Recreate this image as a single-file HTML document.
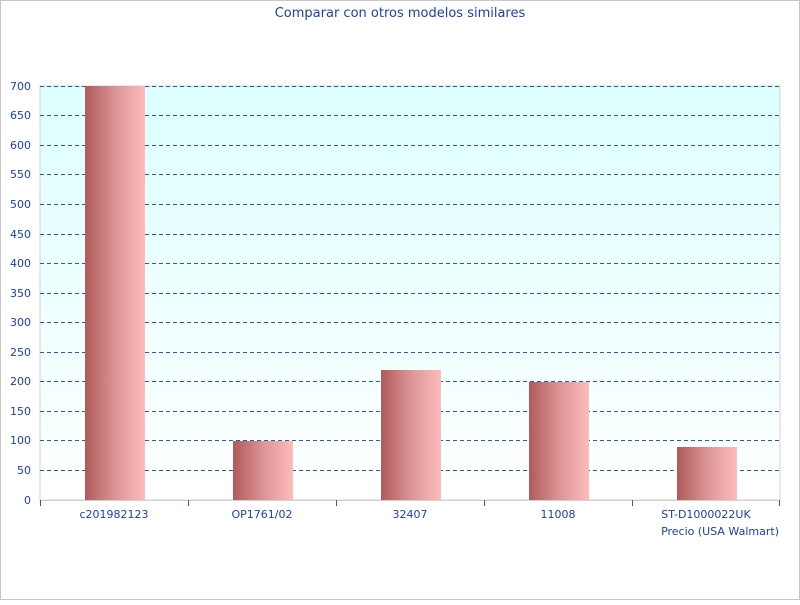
<!DOCTYPE html>
<html><head><style>body{margin:0;background:#fff}</style></head><body>
<svg width="800" height="600" xmlns="http://www.w3.org/2000/svg" font-family="'DejaVu Sans', 'Liberation Sans', sans-serif">
<defs>
<linearGradient id="bg" x1="0" y1="0" x2="0" y2="1"><stop offset="0" stop-color="#ddffff"/><stop offset="1" stop-color="#ffffff"/></linearGradient>
<linearGradient id="bar" x1="0" y1="0" x2="1" y2="0"><stop offset="0" stop-color="#b05a5a"/><stop offset="0.5" stop-color="#dc9494"/><stop offset="1" stop-color="#ffbcbc"/></linearGradient>
</defs>
<rect x="0.5" y="0.5" width="799" height="599" fill="#fff" stroke="#c8c8c8"/>
<text x="400" y="17" text-anchor="middle" font-size="13" fill="#1a3fb4">Comparar con otros modelos similares</text>
<rect x="40" y="86" width="740" height="414" fill="url(#bg)" stroke="#d0d0d0"/>
<g stroke="#2a55c8" stroke-dasharray="4,3" stroke-width="1">
<line x1="40" x2="780" y1="86.5" y2="86.5"/><line x1="40" x2="780" y1="115.5" y2="115.5"/><line x1="40" x2="780" y1="145.5" y2="145.5"/><line x1="40" x2="780" y1="174.5" y2="174.5"/><line x1="40" x2="780" y1="204.5" y2="204.5"/><line x1="40" x2="780" y1="234.5" y2="234.5"/><line x1="40" x2="780" y1="263.5" y2="263.5"/><line x1="40" x2="780" y1="293.5" y2="293.5"/><line x1="40" x2="780" y1="322.5" y2="322.5"/><line x1="40" x2="780" y1="352.5" y2="352.5"/><line x1="40" x2="780" y1="381.5" y2="381.5"/><line x1="40" x2="780" y1="411.5" y2="411.5"/><line x1="40" x2="780" y1="440.5" y2="440.5"/><line x1="40" x2="780" y1="470.5" y2="470.5"/>
</g>
<rect x="85" y="86" width="60" height="414" fill="url(#bar)"/>
<rect x="233" y="441" width="60" height="59" fill="url(#bar)"/>
<rect x="381" y="370" width="60" height="130" fill="url(#bar)"/>
<rect x="529" y="382" width="60" height="118" fill="url(#bar)"/>
<rect x="677" y="447" width="60" height="53" fill="url(#bar)"/>
<line x1="40" x2="780" y1="500.5" y2="500.5" stroke="#d0d0d0"/>
<g stroke="#2a55c8"><line x1="40.5" x2="40.5" y1="500" y2="506"/><line x1="188.5" x2="188.5" y1="500" y2="506"/><line x1="336.5" x2="336.5" y1="500" y2="506"/><line x1="484.5" x2="484.5" y1="500" y2="506"/><line x1="632.5" x2="632.5" y1="500" y2="506"/><line x1="779.5" x2="779.5" y1="500" y2="506"/></g>
<g font-size="11" fill="#1a3fb4" text-anchor="end">
<text x="31" y="90">700</text><text x="31" y="119">650</text><text x="31" y="149">600</text><text x="31" y="178">550</text><text x="31" y="208">500</text><text x="31" y="238">450</text><text x="31" y="267">400</text><text x="31" y="297">350</text><text x="31" y="326">300</text><text x="31" y="356">250</text><text x="31" y="385">200</text><text x="31" y="415">150</text><text x="31" y="444">100</text><text x="31" y="474">50</text><text x="31" y="504">0</text>
</g>
<g font-size="11" fill="#1a3fb4" text-anchor="middle">
<text x="114" y="518">c201982123</text><text x="262" y="518">OP1761/02</text><text x="410" y="518">32407</text><text x="558" y="518">11008</text><text x="706" y="518">ST-D1000022UK</text>
</g>
<text x="779" y="535" font-size="11" fill="#1a3fb4" text-anchor="end">Precio (USA Walmart)</text>
</svg>
</body></html>
